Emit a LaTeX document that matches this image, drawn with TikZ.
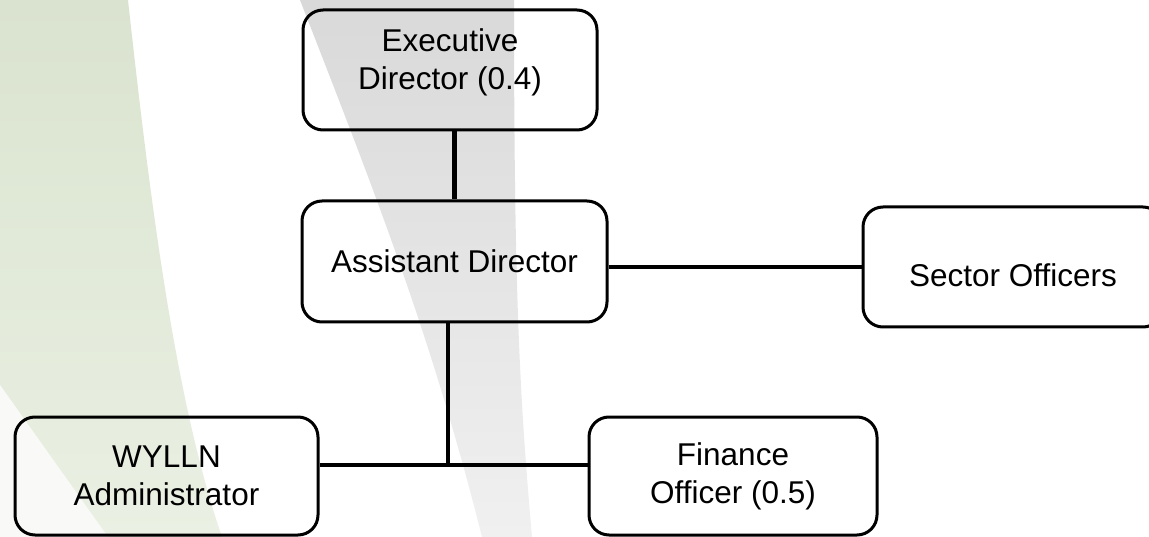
\documentclass[tikz,border=0pt]{standalone}
\usepackage{fontspec}
\setmainfont{Liberation Sans}
\usepackage{tikz}
\usetikzlibrary{calc}
\definecolor{leaf}{HTML}{DAE3CF}
\definecolor{leafpale}{HTML}{EAF0E3}
\definecolor{mist}{HTML}{D9D9D9}
\definecolor{mistpale}{HTML}{F0F0F0}

\begin{document}
\begin{tikzpicture}[x=1pt, y=-1pt,
  box/.style={draw, rounded corners=20pt, line width=3pt, align=center, font=\fontsize{31.5}{38}\selectfont},
  link/.style={line width=4.5pt}]
\clip (0,0) rectangle (1149,537);
\useasboundingbox (0,0) rectangle (1149,537);

\shade [top color=leaf, bottom color=leafpale] (0,0) -- (128,0) .. controls (150,200) and (175,400) .. (222,537) -- (0,537) -- cycle;
\fill [white!70!leafpale] (0,385) -- (108,537) -- (0,537) -- cycle;
\shade [top color=mist, bottom color=mistpale] (300,0) .. controls (370,180) and (430,330) .. (482,537) -- (532,537) .. controls (520,400) and (514,300) .. (514,0) -- cycle;

\node [box, minimum width=294pt, minimum height=120pt, text depth=21pt] (ed) at (450,70) {Executive\\Director (0.4)};
\node [box, minimum width=305pt, minimum height=121pt] (ad) at (454.5,261.5) {Assistant Director};
\node [box, minimum width=300pt, minimum height=120pt, text height=39pt] (so) at (1013,267) {Sector Officers};
\node [box, minimum width=303pt, minimum height=118pt] (wa) at (166.5,476) {WYLLN\\Administrator};
\node [box, minimum width=288pt, minimum height=118pt] (fo) at (733,476) {Finance\\Officer (0.5)};
\coordinate (hub) at (448,465);

\draw [link] (ad.north |- ed.south) -- (ad.north);
\draw [link] (ad.east |- so.west) -- (so.west);
\draw [link] (ad.south -| hub) -- (hub);
\draw [link] (wa.east |- hub) -- (fo.west |- hub);
\end{tikzpicture}
\end{document}
